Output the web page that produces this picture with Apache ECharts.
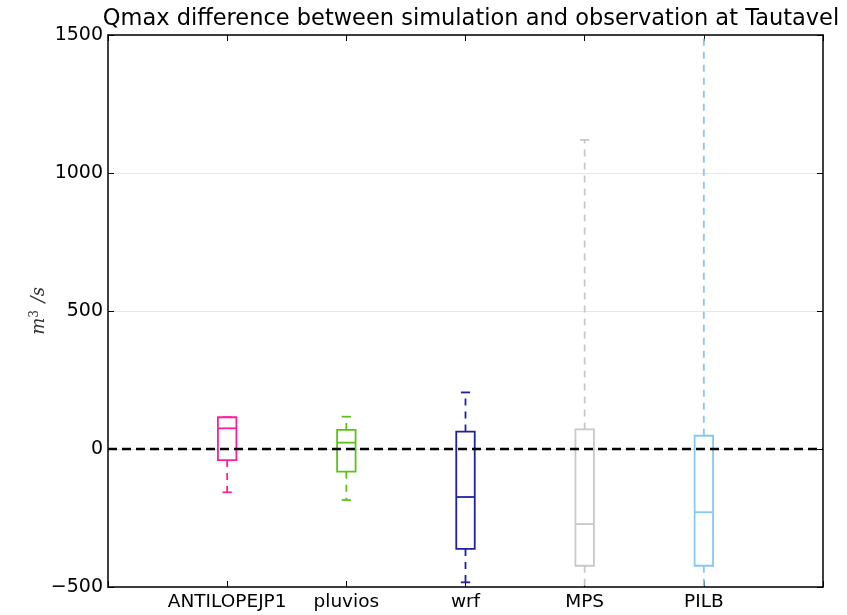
<!DOCTYPE html>
<html>
<head>
<meta charset="utf-8">
<script src="https://cdn.jsdelivr.net/npm/echarts@6/dist/echarts.min.js"></script>
<style>html,body{margin:0;padding:0;background:#fff}#c{width:847px;height:615px}</style>
</head>
<body>
<div id="c"></div>
<script>
var categories = ['ANTILOPEJP1', 'pluvios', 'wrf', 'MPS', 'PILB'];
var whiskerLow = [-157, -185, -483, -540, -540];
var q1 = [-40, -82, -362, -423, -423];
var median = [75, 23, -174, -272, -229];
var q3 = [115, 69, 63, 71, 48];
var whiskerHigh = [115, 117, 205, 1120, 1700];
var colors = ['#ff1e9a', '#5cc21a', '#1f1fa8', '#c8c8c8', '#86c8f0'];
var yTicks = [-500, 0, 500, 1000, 1500];

var chart = echarts.init(document.getElementById('c'));
var font = 'DejaVu Sans';

var series = categories.map(function (name, i) {
  return {
    type: 'custom',
    name: name,
    clip: true,
    encode: { x: 0, y: [1, 2, 3, 4, 5] },
    data: [[i + 1, whiskerLow[i], q1[i], median[i], q3[i], whiskerHigh[i]]],
    renderItem: function (params, api) {
      var x = api.value(0);
      var pLow = api.coord([x, api.value(1)]);
      var pQ1 = api.coord([x, api.value(2)]);
      var pMed = api.coord([x, api.value(3)]);
      var pQ3 = api.coord([x, api.value(4)]);
      var pHigh = api.coord([x, api.value(5)]);
      var hw = api.size([0.155, 0])[0] / 2;
      var cw = hw / 2;
      var cx = pMed[0];
      var col = colors[i];
      var solid = { stroke: col, lineWidth: 1.8, fill: null };
      var dashed = { stroke: col, lineWidth: 1.8, lineDash: [7, 6], fill: null };
      return {
        type: 'group',
        children: [
          { type: 'line', shape: { x1: cx, y1: pQ3[1], x2: cx, y2: pHigh[1] }, style: dashed },
          { type: 'line', shape: { x1: cx, y1: pQ1[1], x2: cx, y2: pLow[1] }, style: dashed },
          { type: 'line', shape: { x1: cx - cw, y1: pHigh[1], x2: cx + cw, y2: pHigh[1] }, style: solid },
          { type: 'line', shape: { x1: cx - cw, y1: pLow[1], x2: cx + cw, y2: pLow[1] }, style: solid },
          { type: 'rect', shape: { x: cx - hw, y: pQ3[1], width: 2 * hw, height: pQ1[1] - pQ3[1] }, style: { stroke: col, lineWidth: 1.8, fill: '#fff' } },
          { type: 'line', shape: { x1: cx - hw, y1: pMed[1], x2: cx + hw, y2: pMed[1] }, style: solid }
        ]
      };
    },
    z: 3
  };
});

series.push({
  type: 'line',
  data: [[0, 0], [6, 0]],
  symbol: 'none',
  lineStyle: { color: '#000', width: 2.6, type: [9, 5] },
  z: 5,
  silent: true
});

chart.setOption({
  animation: false,
  title: {
    text: 'Qmax difference between simulation and observation at Tautavel',
    left: 466, textAlign: 'center', top: 3,
    textStyle: { fontFamily: font, fontSize: 22.5, fontWeight: 'normal', color: '#000' }
  },
  grid: { left: 108, right: 24, top: 35, bottom: 28 },
  xAxis: [{
    type: 'value', min: 0, max: 6, interval: 1,
    axisLine: { show: true, onZero: false, lineStyle: { color: '#000', width: 1.5 } },
    axisTick: { show: true, inside: true, length: 6, lineStyle: { color: '#000' } },
    axisLabel: {
      fontFamily: font, fontSize: 18.5, color: '#000', margin: 6,
      formatter: function (v) { return (v >= 1 && v <= 5) ? categories[v - 1] : ''; }
    },
    splitLine: { show: false }
  }, {
    type: 'value', min: 0, max: 6, interval: 1, position: 'top',
    axisLine: { show: true, onZero: false, lineStyle: { color: '#000', width: 1.5 } },
    axisTick: { show: true, inside: true, length: 6, lineStyle: { color: '#000' } },
    axisLabel: { show: false }, splitLine: { show: false }
  }],
  yAxis: [{
    type: 'value', min: yTicks[0], max: yTicks[yTicks.length - 1], interval: 500,
    axisLine: { show: true, onZero: false, lineStyle: { color: '#000', width: 1.5 } },
    axisTick: { show: true, inside: true, length: 6, lineStyle: { color: '#000' } },
    axisLabel: {
      fontFamily: font, fontSize: 19, color: '#000', margin: 5,
      formatter: function (v) { return String(v).replace('-', '\u2212'); }
    },
    splitLine: { show: true, lineStyle: { color: '#e6e6e6', width: 1 } },
    name: '{m|m}{s|3}{m| /}{r|s}',
    nameLocation: 'middle', nameRotate: 90, nameGap: 58, nameMoveOverlap: false,
    nameTextStyle: {
      rich: {
        m: { fontFamily: 'DejaVu Serif', fontStyle: 'italic', fontSize: 18, color: '#333' },
        r: { fontFamily: 'DejaVu Serif', fontStyle: 'italic', fontSize: 18, color: '#333' },
        s: { fontFamily: 'DejaVu Serif', fontSize: 12, color: '#333', verticalAlign: 'top', padding: [0, 2, 9, 0] }
      }
    }
  }, {
    type: 'value', min: yTicks[0], max: yTicks[yTicks.length - 1], interval: 500, position: 'right',
    axisLine: { show: true, onZero: false, lineStyle: { color: '#000', width: 1.5 } },
    axisTick: { show: true, inside: true, length: 6, lineStyle: { color: '#000' } },
    axisLabel: { show: false }, splitLine: { show: false }
  }],
  series: series
});
</script>
</body>
</html>
